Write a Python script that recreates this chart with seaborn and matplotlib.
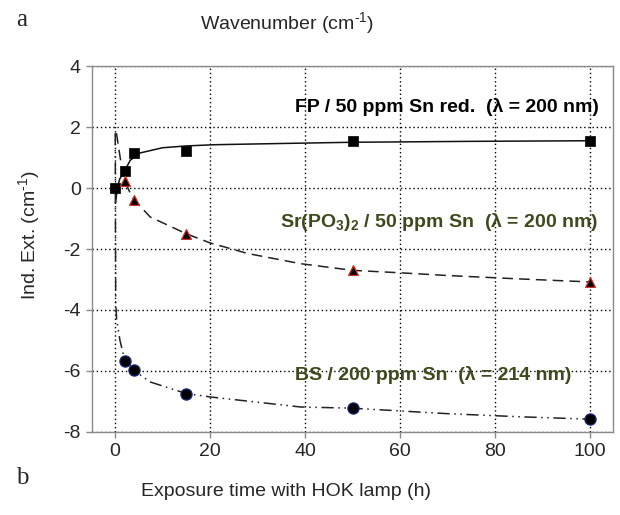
import matplotlib
matplotlib.use("Agg")
import matplotlib.pyplot as plt
import seaborn as sns
import pandas as pd

# ---- data ----
fp_t = [0, 2, 4, 15, 50, 100]
fp_y = [0.0, 0.55, 1.14, 1.21, 1.53, 1.55]
sr_t = [2, 4, 15, 50, 100]
sr_y = [0.23, -0.38, -1.50, -2.70, -3.08]
bs_t = [2, 4, 15, 50, 100]
bs_y = [-5.67, -5.98, -6.74, -7.20, -7.58]

# fitted curves
fp_fit_t = [0.1, 0.5, 1.0, 2.0, 3.2, 5.3, 10, 15, 21, 35, 50, 75, 100]
fp_fit_y = [-0.5, 0.0, 0.3, 0.55, 0.91, 1.15, 1.32, 1.38, 1.42, 1.46, 1.50, 1.53, 1.55]
sr_fit_t = [0.3, 0.7, 1.6, 2.0, 3.0, 4.0, 7.4, 15, 20, 28, 39, 50, 60, 70, 85, 100]
sr_fit_y = [1.8, 1.4, 0.47, 0.25, -0.10, -0.38, -0.95, -1.50, -1.80, -2.15, -2.48, -2.70, -2.78, -2.87, -2.98, -3.08]
bs_fit_t = [0.05, 0.1, 0.15, 0.35, 1.05, 2.0, 4.0, 7.4, 15, 20, 39, 50, 70, 85, 100]
bs_fit_y = [1.8, -1.5, -3.7, -4.34, -5.0, -5.62, -5.98, -6.36, -6.74, -6.85, -7.18, -7.22, -7.40, -7.50, -7.58]

x_ticks = [0, 20, 40, 60, 80, 100]
y_ticks = [-8, -6, -4, -2, 0, 2, 4]

sns.set_style("white")
plt.rcParams['font.family'] = ['Liberation Sans', 'DejaVu Sans']
plt.rcParams['mathtext.fontset'] = 'custom'
plt.rcParams['mathtext.rm'] = 'Liberation Sans'
plt.rcParams['mathtext.bf'] = 'Liberation Sans:bold'
plt.rcParams['axes.unicode_minus'] = False

fig = plt.figure(figsize=(6.2, 5.15), dpi=100)
ax = fig.add_axes([0.1484, 0.1612, 0.8403, 0.7106])

ax.set_xlim(-4.84, 104.8)
ax.set_ylim(-8, 4)
ax.set_xticks(x_ticks)
ax.set_yticks(y_ticks)
ax.grid(True, color='black', linestyle=(0, (1, 2)), linewidth=1.0)
ax.set_axisbelow(True)
for s in ax.spines.values():
    s.set_color('#8a8a8a')
    s.set_linewidth(1.0)
ax.tick_params(axis='both', direction='out', length=4, width=1, color='#8a8a8a',
               labelsize=14, pad=4, bottom=True, left=True)

fp_fit = pd.DataFrame({'t': fp_fit_t, 'y': fp_fit_y})
sr_fit = pd.DataFrame({'t': sr_fit_t, 'y': sr_fit_y})
bs_fit = pd.DataFrame({'t': bs_fit_t, 'y': bs_fit_y})

sns.lineplot(data=fp_fit, x='t', y='y', ax=ax, color='#111111', linewidth=1.1,
             estimator=None, sort=False)
sns.lineplot(data=sr_fit, x='t', y='y', ax=ax, color='#222222', linewidth=1.1,
             estimator=None, sort=False)
ax.lines[-1].set_linestyle((0, (7, 4)))
sns.lineplot(data=bs_fit, x='t', y='y', ax=ax, color='#222222', linewidth=1.1,
             estimator=None, sort=False)
ax.lines[-1].set_linestyle((0, (8, 3, 1, 3, 1, 3)))

sns.scatterplot(x=fp_t, y=fp_y, ax=ax, marker='s', s=60, color='black',
                edgecolor='black', linewidth=0.5, zorder=5)
sns.scatterplot(x=sr_t, y=sr_y, ax=ax, marker='^', s=50, color='black',
                edgecolor='#d03020', linewidth=0.9, zorder=5)
sns.scatterplot(x=bs_t, y=bs_y, ax=ax, marker='o', s=65, color='black',
                edgecolor='#1a2a7a', linewidth=0.9, zorder=5)

olive = '#3c4a1c'
lam = '\u03bb'
ax.text(69.9, 2.65, f'FP / 50 ppm Sn red.  ({lam} = 200 nm)', fontsize=14,
        fontweight='bold', color='black', ha='center', va='center')
ax.text(68.2, -1.12, r'Sr(PO$_\mathbf{3}$)$_\mathbf{2}$ / 50 ppm Sn  (' + lam + ' = 200 nm)',
        fontsize=14, fontweight='bold', color=olive, ha='center', va='center')
ax.text(66.9, -6.14, f'BS / 200 ppm Sn  ({lam} = 214 nm)', fontsize=14,
        fontweight='bold', color=olive, ha='center', va='center')

ax.set_xlabel('')
ax.set_ylabel('')
fig.text(286 / 620, 1 - 491 / 515, 'Exposure time with HOK lamp (h)', fontsize=14,
         ha='center', va='center')
fig.text(287 / 620, 1 - 24 / 515, r'Wavenumber (cm$^{\text{-}1}$)', fontsize=14,
         ha='center', va='center')
fig.text(30 / 620, 1 - 235 / 515, r'Ind. Ext. (cm$^{\text{-}1}$)', fontsize=14,
         ha='center', va='center', rotation=90)
fig.text(22 / 620, 1 - 20 / 515, 'a', fontsize=18, family='Liberation Serif',
         ha='center', va='center')
fig.text(22 / 620, 1 - 478 / 515, 'b', fontsize=18, family='Liberation Serif',
         ha='center', va='center')

fig.savefig('out.png', dpi=100)
